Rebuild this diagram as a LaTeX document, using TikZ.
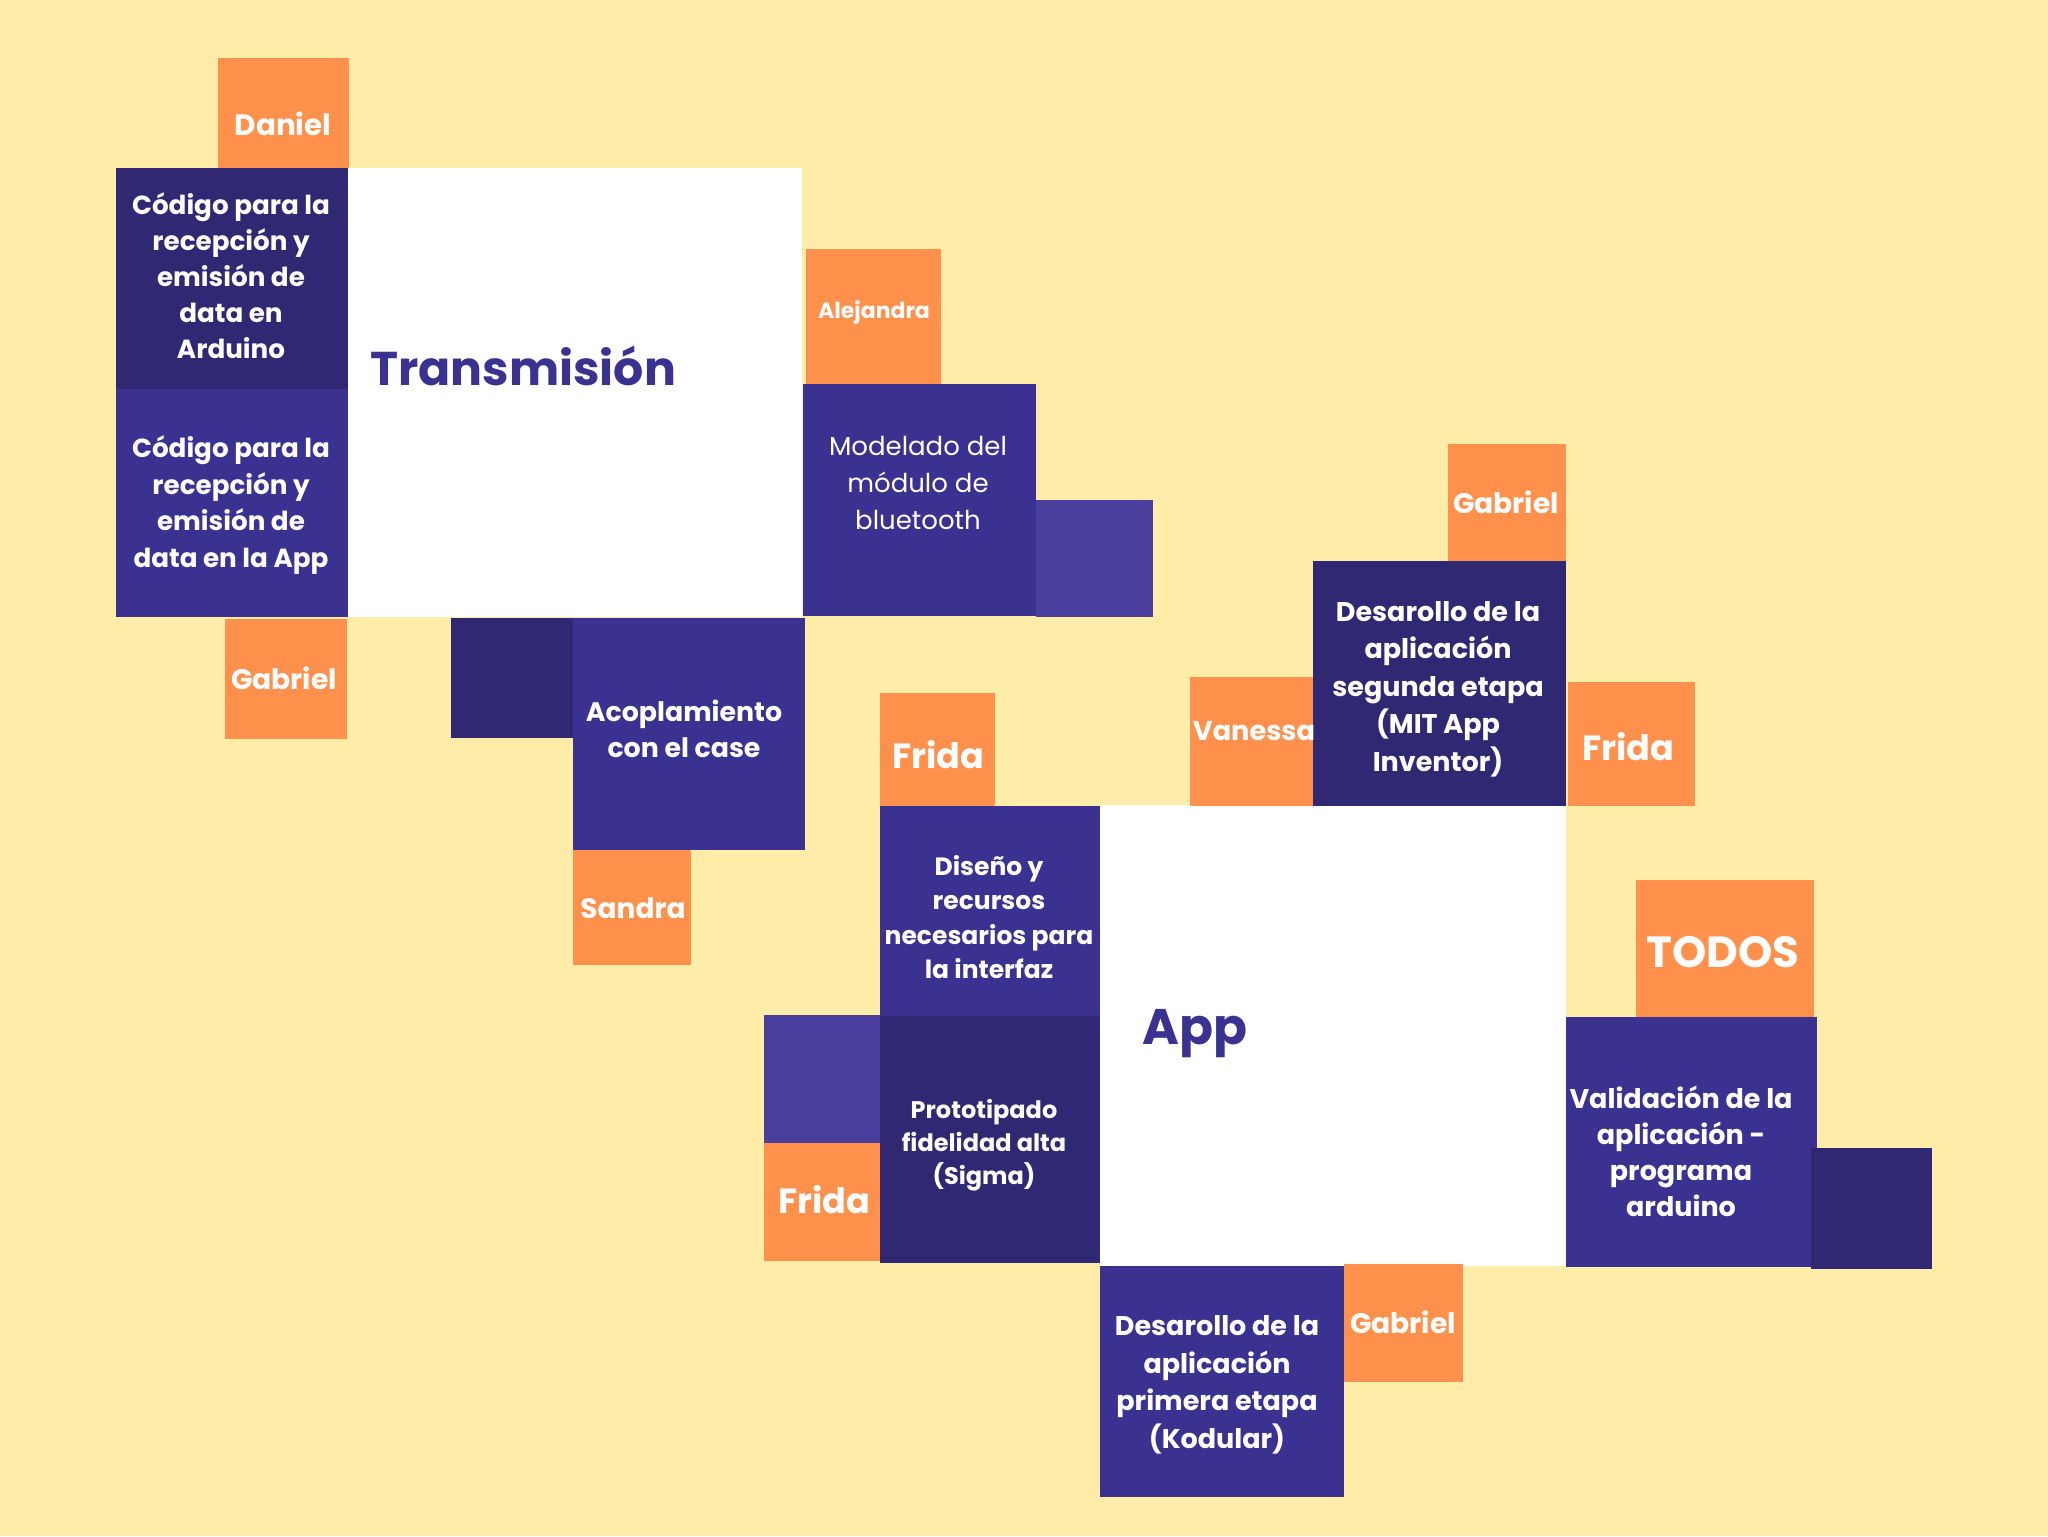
\documentclass[tikz,border=0pt]{standalone}
\usepackage{fontspec}
\setmainfont{Poppins}
\usetikzlibrary{fit}

\definecolor{bg}{HTML}{FFECA9}
\definecolor{orng}{HTML}{FF914D}
\definecolor{pmid}{HTML}{3B3190}
\definecolor{pdark}{HTML}{312873}
\definecolor{plight}{HTML}{4A3F9E}

% block: name, x1, y1, x2, y2, colour (pixel grid, y downwards)
\newcommand\blockat[6]{\node[blk, fill=#6, fit={(#2,#3)(#4,#5)}] (#1) {};}
\newcommand\fs[2]{\fontsize{#1}{#2}\selectfont}

\begin{document}
\begin{tikzpicture}[x=0.5pt,y=-0.5pt,
  blk/.style={inner sep=0pt, outer sep=0pt, draw=none},
  txt/.style={text=white, align=center, inner sep=0pt},
  title/.style={text=pmid, inner sep=0pt, anchor=base west}]
\fill[bg] (0,0) rectangle (2048,1536);
\useasboundingbox (0,0) rectangle (2048,1536);

% ---- Transmisión cluster
\blockat{transw}{348}{168}{802}{617}{white}
\blockat{daniel}{218}{58}{349}{168}{orng}
\blockat{arduino}{116}{168}{348}{389}{pdark}
\blockat{appcode}{116}{389}{348}{617}{pmid}
\blockat{gabriela}{225}{619}{347}{739}{orng}
\blockat{alejandra}{806}{249}{941}{384}{orng}
\blockat{modelado}{803}{384}{1036}{616}{pmid}
\blockat{modside}{1036}{500}{1153}{617}{plight}
\blockat{acopside}{451}{618}{573}{738}{pdark}
\blockat{acopl}{573}{618}{805}{850}{pmid}
\blockat{sandra}{573}{850}{691}{965}{orng}

% ---- App cluster
\blockat{appw}{1100}{805}{1566}{1266}{white}
\blockat{fridaa}{880}{693}{995}{806}{orng}
\blockat{diseno}{880}{806}{1100}{1016}{pmid}
\blockat{proto}{880}{1016}{1100}{1263}{pdark}
\blockat{protoside}{764}{1015}{880}{1143}{plight}
\blockat{fridac}{764}{1143}{880}{1261}{orng}
\blockat{gabrielb}{1448}{444}{1566}{561}{orng}
\blockat{segunda}{1313}{561}{1566}{806}{pdark}
\blockat{vanessa}{1190}{677}{1313}{806}{orng}
\blockat{fridab}{1568}{682}{1695}{806}{orng}
\blockat{todos}{1636}{880}{1814}{1017}{orng}
\blockat{valid}{1566}{1017}{1817}{1267}{pmid}
\blockat{validside}{1811}{1148}{1932}{1269}{pdark}
\blockat{primera}{1100}{1266}{1344}{1497}{pmid}
\blockat{gabrielc}{1344}{1264}{1463}{1382}{orng}

% ---- titles
\node[title, font=\bfseries\fs{23.7}{30}] (transt) at (370,385) {Transmisión};
\node[title, font=\bfseries\fs{25}{30}] (appt) at (1142,1044) {App};

% ---- labels
\node[txt, font=\bfseries\fs{14.7}{18}] (daniel-t) at (283,124) {Daniel};
\node[txt, font=\bfseries\fs{13.1}{18}] (arduino-t) at (231,276) {Código para la\\recepción y\\emisión de\\data en\\Arduino};
\node[txt, font=\bfseries\fs{13.1}{18.3}] (appcode-t) at (231,505) {Código para la\\recepción y\\emisión de\\data en la App};
\node[txt, font=\bfseries\fs{14.1}{18}] (gabriela-t) at (284,678) {Gabriel};
\node[txt, font=\bfseries\fs{11}{14}] (alejandra-t) at (874,313) {Alejandra};
\node[txt, font=\fs{13}{18.3}] (modelado-t) at (918,483) {Modelado del\\módulo de\\bluetooth};
\node[txt, font=\bfseries\fs{13.4}{18.3}] (acopl-t) at (684,729) {Acoplamiento\\con el case};
\node[txt, font=\bfseries\fs{14}{18}] (sandra-t) at (633,908) {Sandra};

\node[txt, font=\bfseries\fs{17.5}{20}] (fridaa-t) at (938,755) {Frida};
\node[txt, font=\bfseries\fs{12.5}{17.2}] (diseno-t) at (989,917) {Diseño y\\recursos\\necesarios para\\la interfaz};
\node[txt, font=\bfseries\fs{14.1}{18}] (gabrielb-t) at (1506,502) {Gabriel};
\node[txt, font=\bfseries\fs{13.5}{18.75}] (segunda-t) at (1438,689) {Desarollo de la\\aplicación\\segunda etapa\\(MIT App\\Inventor)};
\node[txt, font=\bfseries\fs{13.6}{18}] (vanessa-t) at (1254,731) {Vanessa};
\node[txt, font=\bfseries\fs{17.5}{20}] (fridab-t) at (1628,747) {Frida};
\node[txt, font=\bfseries\fs{21.8}{24}] (todos-t) at (1723,952) {TODOS};
\node[txt, font=\bfseries\fs{12}{16.6}] (proto-t) at (984,1145) {Prototipado\\fidelidad alta\\(Sigma)};
\node[txt, font=\bfseries\fs{17.5}{20}] (fridac-t) at (824,1200) {Frida};
\node[txt, font=\bfseries\fs{13.5}{18}] (valid-t) at (1681,1151) {Validación de la\\aplicación -\\programa\\arduino};
\node[txt, font=\bfseries\fs{13.5}{18.75}] (primera-t) at (1217,1385) {Desarollo de la\\aplicación\\primera etapa\\(Kodular)};
\node[txt, font=\bfseries\fs{14.1}{18}] (gabrielc-t) at (1403,1322) {Gabriel};
\end{tikzpicture}
\end{document}
